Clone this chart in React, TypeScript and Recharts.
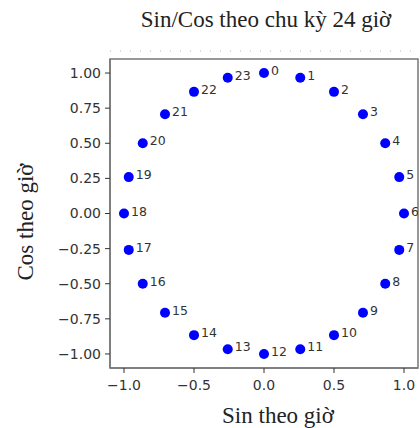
import React from 'react'
import { ScatterChart, Scatter, XAxis, YAxis, ReferenceArea } from 'recharts'

// hour of day and its position on the 24h circle
const hours = [0, 1, 2, 3, 4, 5, 6, 7, 8, 9, 10, 11, 12, 13, 14, 15, 16, 17, 18, 19, 20, 21, 22, 23]
const sinValues = [0, 0.259, 0.5, 0.707, 0.866, 0.966, 1, 0.966, 0.866, 0.707, 0.5, 0.259, 0, -0.259, -0.5, -0.707, -0.866, -0.966, -1, -0.966, -0.866, -0.707, -0.5, -0.259]
const cosValues = [1, 0.966, 0.866, 0.707, 0.5, 0.259, 0, -0.259, -0.5, -0.707, -0.866, -0.966, -1, -0.966, -0.866, -0.707, -0.5, -0.259, 0, 0.259, 0.5, 0.707, 0.866, 0.966]

const xTicks = [-1, -0.5, 0, 0.5, 1]
const yTicks = [1, 0.75, 0.5, 0.25, 0, -0.25, -0.5, -0.75, -1]

const data = hours.map((h, i) => ({ hour: h, sin: sinValues[i], cos: cosValues[i] }))

const fmt = (v: number, digits: number) => v.toFixed(digits).replace('-', '\u2212')

const tickStyle = { fontFamily: 'DejaVu Sans', fontSize: 14, fill: '#333' }

const PointWithLabel = (props: any) => {
  const { cx, cy, payload } = props
  return (
    <g>
      <circle cx={cx} cy={cy} r={5} fill="#0000ff" />
      <text x={cx + 7} y={cy + 2} fontFamily="DejaVu Sans" fontSize={12.5} fill="#333">
        {payload.hour}
      </text>
    </g>
  )
}

const App: React.FC = () => {
  return (
    <div style={{ position: 'absolute', left: 0, top: 0, width: 420, height: 428, background: 'white' }}>
      <ScatterChart width={420} height={428} margin={{ top: 59, right: 2, bottom: 30, left: 50 }}>
        <XAxis
          type="number"
          dataKey="sin"
          domain={[-1.1, 1.1]}
          ticks={xTicks}
          tickFormatter={(v) => fmt(v, 1)}
          height={30}
          tick={tickStyle}
          tickSize={5}
          tickMargin={7}
          tickLine={{ stroke: '#333' }}
          axisLine={{ stroke: '#777', strokeWidth: 1.5 }}
          allowDataOverflow
        />
        <YAxis
          type="number"
          dataKey="cos"
          domain={[-1.1, 1.1]}
          ticks={yTicks}
          tickFormatter={(v) => fmt(v, 2)}
          width={60}
          tick={tickStyle}
          tickSize={5}
          tickMargin={4}
          tickLine={{ stroke: '#333' }}
          axisLine={{ stroke: '#777', strokeWidth: 1.5 }}
          allowDataOverflow
        />
        <ReferenceArea x1={-1.1} x2={1.1} y1={-1.1} y2={1.1} fill="none" stroke="#777" strokeWidth={1.5} />
        <Scatter data={data} shape={PointWithLabel} isAnimationActive={false} />
      </ScatterChart>
      <svg width={420} height={428} style={{ position: 'absolute', left: 0, top: 0, pointerEvents: 'none' }}>
        <text x={266} y={27} textAnchor="middle" fontFamily="Liberation Serif" fontSize={23} fill="#222">
          Sin/Cos theo chu kỳ 24 giờ
        </text>
        <line x1={110} y1={51} x2={418} y2={51} stroke="#bbb" strokeDasharray="1 9" />
        <text x={278} y={423} textAnchor="middle" fontFamily="Liberation Serif" fontSize={23} fill="#222">
          Sin theo giờ
        </text>
        <text
          x={0}
          y={0}
          transform="translate(33, 222) rotate(-90)"
          textAnchor="middle"
          fontFamily="Liberation Serif"
          fontSize={23}
          fill="#222"
        >
          Cos theo giờ
        </text>
      </svg>
    </div>
  )
}

export default App
